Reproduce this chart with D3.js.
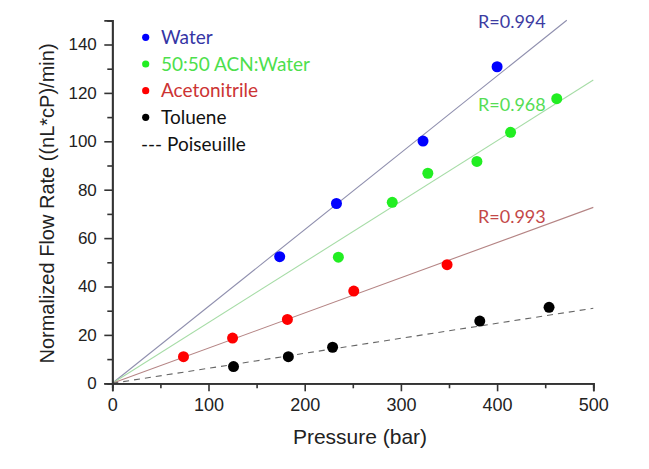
<!DOCTYPE html>
<html><head><meta charset="utf-8">
<script src="https://cdn.jsdelivr.net/npm/d3@7"></script>
<style>body{margin:0;background:#fff;} svg{display:block;}</style>
</head><body>
<svg id="chart" width="649" height="469"></svg>
<script>
// ---- data ----
const seriesNames = ["Water", "50:50 ACN:Water", "Acetonitrile", "Toluene"];
const pressureWater = [174, 233, 323, 400];
const flowWater     = [52.3, 74.3, 100.1, 130.8];
const pressureMix   = [235, 291, 328, 379, 414, 462];
const flowMix       = [52.1, 74.8, 86.8, 91.7, 103.7, 117.6];
const pressureACN   = [74, 125, 182, 251, 348];
const flowACN       = [11.0, 18.7, 26.4, 38.1, 49.0];
const pressureTol   = [126, 183, 229, 382, 454];
const flowTol       = [6.9, 11.0, 14.9, 25.7, 31.4];
const fitSlopes     = [0.3175, 0.2506, 0.1454];   // Water, Mix, ACN
const fitLabels     = ["R=0.994", "R=0.968", "R=0.993"];
const poiseuilleSlope = 0.062;
const xTicks = [0, 100, 200, 300, 400, 500];
const yTicks = [0, 20, 40, 60, 80, 100, 120, 140];

// ---- layout ----
const svg = d3.select("#chart");
const x = d3.scaleLinear().domain([0, 500]).range([112.3, 593.3]);
const y = d3.scaleLinear().domain([0, 150]).range([383.3, 20.3]);

const dotColors  = ["#0000ff", "#22ee22", "#ff0000", "#000000"];
const textColors = ["#3535a5", "#4ddf4d", "#cc3333", "#111111"];
const lineColors = ["#8f8fae", "#a6dca6", "#b58585"];
const fitColors  = ["#3c3ca2", "#55dd55", "#c44848"];

// fit lines
const fitEnds = [150 / fitSlopes[0], 500, 500];
fitSlopes.forEach((s, i) => {
  svg.append("line")
    .attr("x1", x(0)).attr("y1", y(0))
    .attr("x2", x(fitEnds[i])).attr("y2", y(fitEnds[i] * s))
    .attr("stroke", lineColors[i]).attr("stroke-width", 1.1);
});
svg.append("line")
  .attr("x1", x(0)).attr("y1", y(0))
  .attr("x2", x(500)).attr("y2", y(500 * poiseuilleSlope))
  .attr("stroke", "#666").attr("stroke-width", 1.1)
  .attr("stroke-dasharray", "6,5");

// axes
const fontAxis = "'Liberation Sans', Arial, sans-serif";
const xAxis = d3.axisBottom(x).tickValues(xTicks).tickSize(8).tickPadding(7);
const xMinor = d3.axisBottom(x).tickValues(d3.range(50, 500, 100)).tickSize(5).tickFormat("");
const yAxis = d3.axisLeft(y).tickValues(yTicks).tickSize(8).tickPadding(7.5);
const yMinor = d3.axisLeft(y).tickValues(d3.range(10, 151, 20)).tickSize(5).tickFormat("");

function styleAxis(g, fs) {
  g.selectAll("path").attr("stroke", "#333").attr("stroke-width", 1.8);
  g.selectAll("line").attr("stroke", "#333").attr("stroke-width", 1.6);
  g.selectAll("text").attr("fill", "#222").style("font-family", fontAxis).style("font-size", fs + "px");
}
styleAxis(svg.append("g").attr("transform", `translate(0,${y(0)})`).call(xMinor), 18);
styleAxis(svg.append("g").attr("transform", `translate(0,${y(0)})`).call(xAxis), 18);
styleAxis(svg.append("g").attr("transform", `translate(${x(0)},0)`).call(yMinor), 17);
styleAxis(svg.append("g").attr("transform", `translate(${x(0)},0)`).call(yAxis), 17);

// axis titles
svg.append("text").attr("x", 360).attr("y", 444)
  .attr("text-anchor", "middle").style("font-family", fontAxis).style("font-size", "21px")
  .attr("fill", "#222").text("Pressure (bar)");
svg.append("text").attr("transform", `translate(54,203.5) rotate(-90)`)
  .attr("text-anchor", "middle").style("font-family", fontAxis).style("font-size", "20px")
  .attr("fill", "#222").text("Normalized Flow Rate ((nL*cP)/min)");

// points
const seriesX = [pressureWater, pressureMix, pressureACN, pressureTol];
const seriesY = [flowWater, flowMix, flowACN, flowTol];
seriesX.forEach((xs, i) => {
  svg.append("g").selectAll("circle").data(xs.map((v, j) => [v, seriesY[i][j]]))
    .join("circle")
    .attr("cx", d => x(d[0])).attr("cy", d => y(d[1])).attr("r", 5.5)
    .attr("fill", dotColors[i]);
});

// R labels
const fitLabelPos = [[478, 28], [478, 111], [478, 223]];
fitLabels.forEach((t, i) => {
  svg.append("text").attr("x", fitLabelPos[i][0]).attr("y", fitLabelPos[i][1])
    .style("font-family", "Lato, sans-serif").style("font-size", "18px")
    .attr("fill", fitColors[i]).text(t);
});

// legend
const legY = [37.3, 64, 90.7, 117.3];
seriesNames.forEach((n, i) => {
  svg.append("circle").attr("cx", 145.7).attr("cy", legY[i]).attr("r", 3.6).attr("fill", dotColors[i]);
  svg.append("text").attr("x", 161).attr("y", legY[i] + 6.5)
    .style("font-family", "Lato, sans-serif").style("font-size", "19px")
    .attr("fill", textColors[i]).text(n);
});
svg.append("text").attr("x", 141).attr("y", 144 + 6.5)
  .style("font-family", "Lato, sans-serif").style("font-size", "19px")
  .attr("fill", "#111").text("--- Poiseuille");
</script>
</body></html>
